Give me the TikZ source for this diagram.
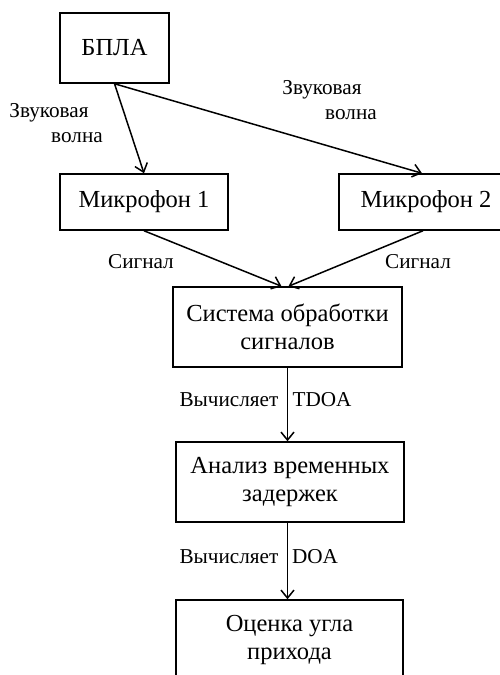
\documentclass[tikz,border=0pt]{standalone}
\usepackage{fontspec}
\setmainfont{Liberation Serif}
\usetikzlibrary{arrows.meta,calc}

\tikzset{
  block/.style={draw, line width=1.5pt, fill=white, align=center,
    inner sep=0pt, font=\fontsize{24.5}{28}\selectfont},
  lbl/.style={inner sep=0pt, font=\fontsize{21.2}{24}\selectfont},
  flow/.style={line width=1.5pt, -{Straight Barb[length=8pt,width=13pt,line width=1.5pt]}}
}

\begin{document}
\begin{tikzpicture}[x=1pt,y=-1pt]
  \useasboundingbox (0,0) rectangle (499,675);

  % blocks
  \node[block, minimum width=109pt, minimum height=70pt] (uav) at (114.5,48) {БПЛА};
  \node[block, minimum width=168pt, minimum height=56pt] (mic1) at (144,202) {Микрофон 1};
  \node[block, minimum width=174pt, minimum height=56pt] (mic2) at (426,202) {Микрофон 2};
  \node[block, minimum width=229pt, minimum height=80pt] (proc) at (287.5,327)
    {Система обработки\\сигналов};
  \node[block, minimum width=228pt, minimum height=80pt] (tdoa) at (290,482)
    {Анализ временных\\задержек};
  \node[block, minimum width=227pt, minimum height=80pt] (doa) at (289.5,640)
    {Оценка угла\\прихода};

  % connectors
  \draw[flow] (uav.south) -- (mic1.north);
  \draw[flow] (uav.south) -- ($(mic2.north)+(-4,0)$);
  \draw[flow] (mic1.south) -- ($(proc.north)+(-6,0)$);
  \draw[flow] ($(mic2.south)+(-3,0)$) -- ($(proc.north)+(1,0)$);
  \draw[flow] (proc.south) -- (tdoa.north -| proc.south);
  \draw[flow] (tdoa.south -| proc.south) -- (doa.north -| proc.south);

  % labels
  \node[lbl] (w1a) at (49,113) {Звуковая};
  \node[lbl] (w1b) at (77,138) {волна};
  \node[lbl] (w2a) at (322,90) {Звуковая};
  \node[lbl] (w2b) at (351,115) {волна};
  \node[lbl] (s1) at (141,262) {Сигнал};
  \node[lbl] (s2) at (418,262) {Сигнал};
  \node[lbl] (c1) at (229,400) {Вычисляет};
  \node[lbl] (t1) at (322,400) {TDOA};
  \node[lbl] (c2) at (229,557) {Вычисляет};
  \node[lbl] (t2) at (315,557) {DOA};
\end{tikzpicture}
\end{document}
